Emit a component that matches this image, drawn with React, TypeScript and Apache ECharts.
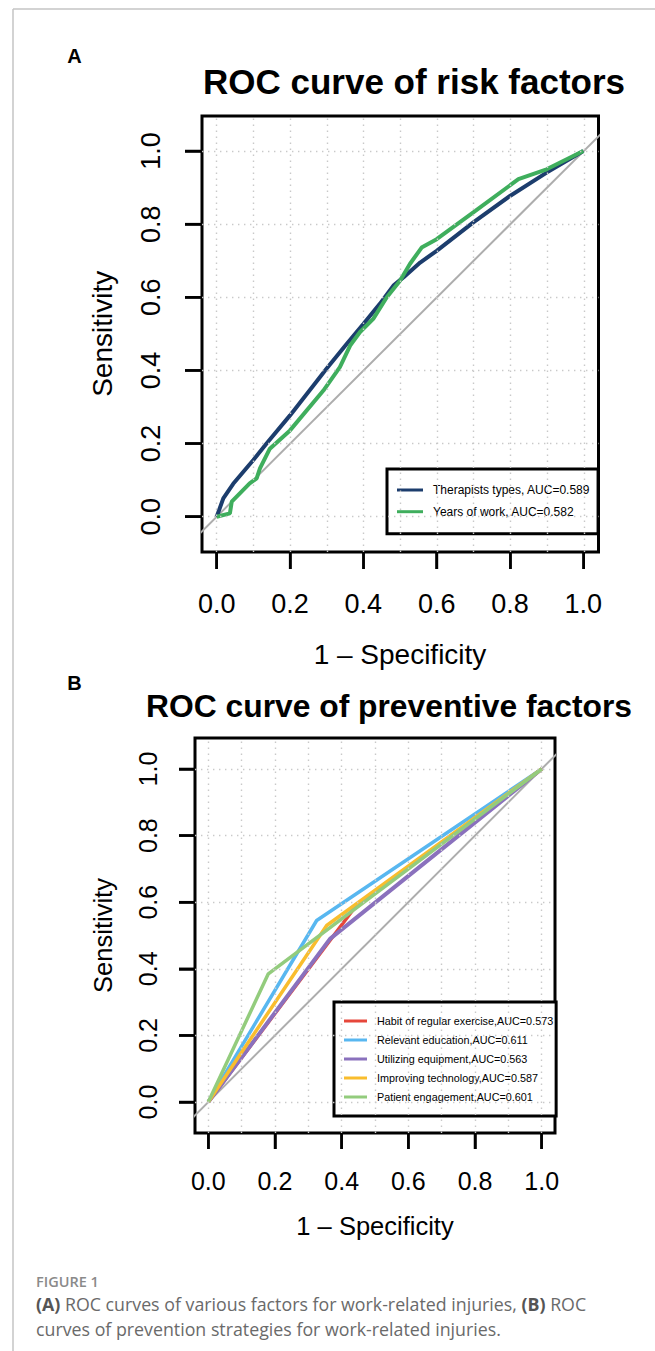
import React, { useEffect, useRef } from "react";
import * as echarts from "echarts";

// ---------- data ----------
const tickInterval = 0.2;
const tickValues = [0, 0.2, 0.4, 0.6, 0.8, 1.0];
const gridXValues = [0, 0.1, 0.2, 0.3, 0.4, 0.5, 0.6, 0.7, 0.8, 0.9, 1.0];
const gridYValues = [0, 0.2, 0.4, 0.6, 0.8, 1.0];
const diagonal = [-0.2, 1.2];

// Panel A: risk factors
const riskNames = ["Therapists types, AUC=0.589", "Years of work, AUC=0.582"];
const riskColors = ["#1c3d6d", "#3fae5d"];
const therapistFpr = [0, 0.018, 0.045, 0.1, 0.136, 0.2, 0.3, 0.355, 0.4, 0.445, 0.482, 0.51, 0.555, 0.6, 0.7, 0.8, 0.9, 1];
const therapistTpr = [0, 0.05, 0.09, 0.155, 0.2, 0.277, 0.405, 0.473, 0.527, 0.582, 0.632, 0.655, 0.695, 0.727, 0.805, 0.877, 0.941, 1];
const yearsFpr = [0, 0.036, 0.041, 0.09, 0.109, 0.118, 0.145, 0.2, 0.291, 0.336, 0.364, 0.391, 0.427, 0.464, 0.5, 0.527, 0.559, 0.6, 0.7, 0.823, 0.9, 1];
const yearsTpr = [0, 0.009, 0.041, 0.091, 0.105, 0.132, 0.186, 0.236, 0.345, 0.409, 0.468, 0.505, 0.541, 0.6, 0.645, 0.691, 0.736, 0.759, 0.832, 0.923, 0.95, 1];

// Panel B: preventive factors
const prevNames = [
  "Habit of regular exercise,AUC=0.573",
  "Relevant education,AUC=0.611",
  "Utilizing equipment,AUC=0.563",
  "Improving technology,AUC=0.587",
  "Patient engagement,AUC=0.601",
];
const prevColors = ["#e6473b", "#58b7f0", "#8a71bd", "#f9bd2d", "#93cc7d"];
const habitFpr = [0, 0.44, 1];
const habitTpr = [0, 0.585, 1];
const educationFpr = [0, 0.325, 1];
const educationTpr = [0, 0.545, 1];
const equipmentFpr = [0, 0.365, 1];
const equipmentTpr = [0, 0.49, 1];
const technologyFpr = [0, 0.355, 1];
const technologyTpr = [0, 0.53, 1];
const engagementFpr = [0, 0.18, 1];
const engagementTpr = [0, 0.385, 1];

// ---------- helpers ----------
const FONT = "Arial";
const CAPTION_FONT = "Open Sans";

const zip = (xs: number[], ys: number[]) => xs.map((x, i) => [x, ys[i]]);

const boxRangeA = { xMin: -0.0401, xMax: 1.0401, yMin: -0.0965, yMax: 1.0957 };
const boxRangeB = { xMin: -0.0401, xMax: 1.0401, yMin: -0.093, yMax: 1.093 };

function boxAxis(gridIndex: number, min: number, max: number) {
  return { gridIndex, type: "value", min, max, show: false, axisLine: { onZero: false } };
}

function xTickAxis(gridIndex: number, offset: number, fs: number, tickLen: number, margin: number, nameGap: number, nameSize: number) {
  return {
    gridIndex,
    type: "value",
    min: 0,
    max: 1,
    interval: tickInterval,
    position: "bottom",
    offset,
    axisLine: { show: false, onZero: false },
    splitLine: { show: false },
    axisTick: { show: true, inside: false, length: tickLen, lineStyle: { color: "#000", width: 2.5 } },
    axisLabel: {
      show: true,
      showMinLabel: true,
      showMaxLabel: true,
      hideOverlap: false,
      formatter: (v: number) => v.toFixed(1),
      fontSize: fs,
      fontFamily: FONT,
      color: "#000",
      margin,
    },
    name: "1 \u2013 Specificity",
    nameLocation: "middle",
    nameGap,
    nameTextStyle: { fontSize: nameSize, fontFamily: FONT, color: "#000" },
  };
}

function yTickAxis(gridIndex: number, offset: number, fs: number, tickLen: number, margin: number, nameGap: number, nameSize: number) {
  return {
    gridIndex,
    type: "value",
    min: 0,
    max: 1,
    interval: tickInterval,
    position: "left",
    offset,
    axisLine: { show: false, onZero: false },
    splitLine: { show: false },
    axisTick: { show: true, inside: false, length: tickLen, lineStyle: { color: "#000", width: 2.5 } },
    axisLabel: {
      show: true,
      showMinLabel: true,
      showMaxLabel: true,
      hideOverlap: false,
      formatter: (v: number) => v.toFixed(1),
      rotate: 90,
      fontSize: fs,
      fontFamily: FONT,
      color: "#000",
      margin,
    },
    name: "Sensitivity",
    nameLocation: "middle",
    nameGap,
    nameTextStyle: { fontSize: nameSize, fontFamily: FONT, color: "#000" },
  };
}

const gridMarkLine = {
  silent: true,
  symbol: ["none", "none"],
  label: { show: false },
  lineStyle: { color: "#c9c9c9", width: 1.4, type: [1.4, 4.6] },
  data: [...gridXValues.map((v) => ({ xAxis: v })), ...gridYValues.map((v) => ({ yAxis: v }))],
};

function curve(name: string, idx: number, xs: number[], ys: number[], color: string, width: number) {
  return {
    name,
    type: "line",
    xAxisIndex: idx,
    yAxisIndex: idx,
    data: zip(xs, ys),
    symbol: "none",
    clip: false,
    color,
    itemStyle: { color },
    lineStyle: { color, width },
    z: 3,
  };
}

function diagSeries(idx: number) {
  return {
    name: "diag" + idx,
    type: "line",
    xAxisIndex: idx,
    yAxisIndex: idx,
    data: zip(diagonal, diagonal),
    symbol: "none",
    clip: true,
    lineStyle: { color: "#adadad", width: 2 },
    itemStyle: { color: "#adadad" },
    markLine: gridMarkLine,
    z: 2,
  };
}

// tick marks drawn through the box axes' scale (custom series)
function tickSeries(idx: number, range: any, len: number, vertical: boolean) {
  return {
    name: (vertical ? "xticks" : "yticks") + idx,
    type: "custom",
    xAxisIndex: idx,
    yAxisIndex: idx,
    clip: false,
    silent: true,
    z: 10,
    data: tickValues.map((v) => (vertical ? [v, range.yMin] : [range.xMin, v])),
    renderItem: (params: any, api: any) => {
      const p = api.coord([api.value(0), api.value(1)]);
      const shape = vertical
        ? { x1: p[0], y1: p[1], x2: p[0], y2: p[1] + len }
        : { x1: p[0], y1: p[1], x2: p[0] - len, y2: p[1] };
      return { type: "line", shape, style: { stroke: "#000", lineWidth: 2.5, fill: "none" } };
    },
  };
}

function measure(text: string, font: string) {
  const ctx = document.createElement("canvas").getContext("2d");
  if (!ctx) return text.length * 9;
  ctx.font = font;
  return ctx.measureText(text).width;
}

export default function App() {
  const ref = useRef<HTMLDivElement>(null);

  useEffect(() => {
    if (!ref.current) return;
    const chart = echarts.init(ref.current, null, { renderer: "svg" });

    const capSize = 17.8;
    const capBold = `bold ${capSize}px "${CAPTION_FONT}"`;
    const capReg = `${capSize}px "${CAPTION_FONT}"`;
    const partA = "(A)";
    const partA2 = " ROC curves of various factors for work-related injuries, ";
    const partB = "(B)";
    const partB2 = " ROC";
    const wA = measure(partA, capBold);
    const wA2 = measure(partA2, capReg);
    const wB = measure(partB, capBold);
    const capText = (text: string, x: number, y: number, bold: boolean) => ({
      type: "text",
      x,
      y,
      style: {
        text,
        fontFamily: CAPTION_FONT,
        fontSize: capSize,
        fontWeight: bold ? "bold" : "normal",
        fill: bold ? "#555" : "#6a6a6a",
        align: "left",
        verticalAlign: "middle",
      },
    });

    const option = {
      animation: false,
      backgroundColor: "#fff",
      grid: [
        { left: 202, top: 116, width: 396.5, height: 436, show: true, borderColor: "#000", borderWidth: 3, backgroundColor: "transparent" },
        { left: 216.7, top: 151, width: 366.6, height: 365.7, show: false },
        { left: 195, top: 738, width: 360, height: 395, show: true, borderColor: "#000", borderWidth: 3, backgroundColor: "transparent" },
        { left: 208.3, top: 769, width: 333.4, height: 333, show: false },
      ],
      xAxis: [
        boxAxis(0, boxRangeA.xMin, boxRangeA.xMax),
        xTickAxis(1, 35.3, 27, 17, 38, 88, 28),
        boxAxis(2, boxRangeB.xMin, boxRangeB.xMax),
        xTickAxis(3, 31, 25, 16, 35, 80, 25.5),
      ],
      yAxis: [
        boxAxis(0, boxRangeA.yMin, boxRangeA.yMax),
        yTickAxis(1, 14.7, 27, 17, 38, 86, 28),
        boxAxis(2, boxRangeB.yMin, boxRangeB.yMax),
        yTickAxis(3, 13.3, 25, 16, 35, 79, 25.5),
      ],
      legend: [
        {
          data: riskNames,
          orient: "vertical",
          left: 387,
          top: 469,
          padding: [15, 8, 16, 10],
          itemGap: 9.7,
          itemWidth: 26,
          itemHeight: 3,
          icon: "rect",
          backgroundColor: "#fff",
          borderColor: "#000",
          borderWidth: 3,
          borderRadius: 0,
          selectedMode: false,
          textStyle: { fontFamily: FONT, fontSize: 12, color: "#000", padding: [0, 0, 0, 5] },
        },
        {
          data: prevNames,
          orient: "vertical",
          left: 334,
          top: 1002,
          padding: [13.5, 3, 13.5, 10],
          itemGap: 8,
          itemWidth: 23,
          itemHeight: 3,
          icon: "rect",
          backgroundColor: "#fff",
          borderColor: "#000",
          borderWidth: 3,
          borderRadius: 0,
          selectedMode: false,
          textStyle: { fontFamily: FONT, fontSize: 10.8, color: "#000", padding: [0, 0, 0, 5] },
        },
      ],
      series: [
        diagSeries(0),
        curve(riskNames[0], 1, therapistFpr, therapistTpr, riskColors[0], 4),
        curve(riskNames[1], 1, yearsFpr, yearsTpr, riskColors[1], 4),
        tickSeries(0, boxRangeA, 17, true),
        tickSeries(0, boxRangeA, 17, false),
        diagSeries(2),
        curve(prevNames[0], 3, habitFpr, habitTpr, prevColors[0], 3.5),
        curve(prevNames[1], 3, educationFpr, educationTpr, prevColors[1], 3.5),
        curve(prevNames[2], 3, equipmentFpr, equipmentTpr, prevColors[2], 4),
        curve(prevNames[3], 3, technologyFpr, technologyTpr, prevColors[3], 3.5),
        curve(prevNames[4], 3, engagementFpr, engagementTpr, prevColors[4], 3.5),
        tickSeries(2, boxRangeB, 16, true),
        tickSeries(2, boxRangeB, 16, false),
      ],
      graphic: [
        { type: "line", silent: true, shape: { x1: 13, y1: 9, x2: 655, y2: 9 }, style: { stroke: "#c4c4c4", lineWidth: 1.5 } },
        { type: "line", silent: true, shape: { x1: 13, y1: 9, x2: 13, y2: 1351 }, style: { stroke: "#c4c4c4", lineWidth: 1.5 } },
        { type: "text", x: 74.5, y: 56, style: { text: "A", fontFamily: FONT, fontWeight: "bold", fontSize: 20, fill: "#000", align: "center", verticalAlign: "middle" } },
        { type: "text", x: 74.5, y: 683, style: { text: "B", fontFamily: FONT, fontWeight: "bold", fontSize: 20, fill: "#000", align: "center", verticalAlign: "middle" } },
        { type: "text", x: 414, y: 81, style: { text: "ROC curve of risk factors", fontFamily: FONT, fontWeight: "bold", fontSize: 35, fill: "#000", align: "center", verticalAlign: "middle" } },
        { type: "text", x: 389, y: 706, style: { text: "ROC curve of preventive factors", fontFamily: FONT, fontWeight: "bold", fontSize: 31.8, fill: "#000", align: "center", verticalAlign: "middle" } },
        { type: "text", x: 36, y: 1281.5, style: { text: "FIGURE 1", fontFamily: CAPTION_FONT, fontWeight: 600, fontSize: 14.5, fill: "#8a8a8a", align: "left", verticalAlign: "middle" } },
        capText(partA, 36, 1304, true),
        capText(partA2, 36 + wA, 1304, false),
        capText(partB, 36 + wA + wA2, 1304, true),
        capText(partB2, 36 + wA + wA2 + wB, 1304, false),
        capText("curves of prevention strategies for work-related injuries.", 36, 1328.5, false),
      ],
    };

    chart.setOption(option as any);
    return () => chart.dispose();
  }, []);

  return <div ref={ref} style={{ position: "absolute", left: 0, top: 0, width: 655, height: 1351 }} />;
}
